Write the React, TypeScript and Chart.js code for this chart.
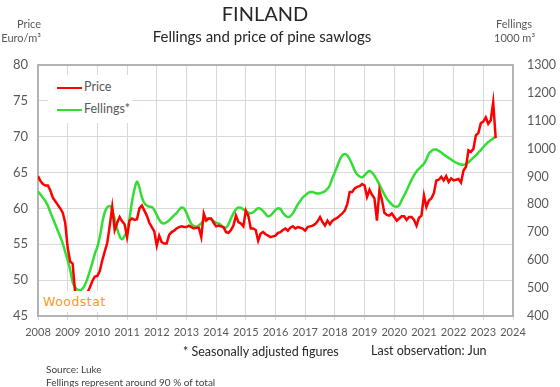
import React, { useEffect, useRef } from 'react';
import Chart from 'chart.js/auto';

// ---- data ----
const startYear = 2008;
const yearTicks = [2008, 2009, 2010, 2011, 2012, 2013, 2014, 2015, 2016, 2017, 2018, 2019, 2020, 2021, 2022, 2023, 2024];
const priceTicks = [45, 50, 55, 60, 65, 70, 75, 80];
const fellingsTicks = [400, 500, 600, 700, 800, 900, 1000, 1100, 1200, 1300];

// Monthly price of pine sawlogs, Euro/m3, Jan 2008 - Jun 2023
const priceValues = [
  64.5, 63.8, 63.4, 63.2, 63.2, 62.5, 61.5, 61.0, 60.5, 60.0, 59.4, 58.0, // 2008
  54.5, 52.6, 52.3, 48.3, 47.2, 46.5, 46.3, 47.0, 48.3, 49.0, 49.9, 50.5, // 2009
  50.6, 51.3, 52.8, 54.0, 55.2, 57.6, 60.2, 57.0, 58.0, 58.8, 58.2, 57.8, // 2010
  56.0, 58.3, 58.6, 58.4, 58.5, 60.0, 60.4, 59.7, 59.0, 58.0, 57.4, 56.8, // 2011
  54.8, 56.2, 55.3, 55.1, 55.1, 56.3, 56.7, 56.9, 57.2, 57.4, 57.5, 57.4, // 2012
  57.4, 57.6, 57.4, 57.2, 57.3, 57.3, 56.0, 59.3, 58.3, 58.6, 58.6, 58.0, // 2013
  57.5, 57.6, 57.5, 57.4, 56.7, 56.6, 57.0, 57.6, 59.0, 58.1, 57.9, 57.5, // 2014
  59.7, 59.0, 57.2, 57.2, 57.0, 55.5, 56.5, 56.7, 56.4, 56.2, 56.0, 56.1, // 2015
  56.2, 56.6, 56.7, 57.0, 57.2, 56.9, 57.3, 57.5, 57.2, 57.4, 57.3, 57.2, // 2016
  56.9, 57.4, 57.5, 57.6, 57.8, 58.2, 58.8, 58.1, 57.6, 58.3, 57.8, 58.3, // 2017
  58.5, 58.7, 59.0, 59.3, 59.7, 60.6, 62.3, 62.3, 62.8, 63.0, 63.1, 63.4, // 2018
  63.2, 61.6, 62.6, 61.9, 61.4, 58.3, 62.5, 61.2, 59.4, 59.1, 59.0, 59.3, // 2019
  58.8, 58.3, 58.6, 58.9, 58.9, 58.4, 58.8, 58.8, 58.4, 57.6, 58.7, 59.0, // 2020
  61.8, 60.2, 61.1, 61.4, 62.1, 63.9, 64.0, 64.4, 63.9, 64.5, 63.7, 64.2, // 2021
  63.9, 64.0, 64.1, 63.6, 65.3, 65.8, 68.1, 67.9, 68.3, 70.2, 70.5, 71.9, // 2022
  72.1, 72.7, 71.8, 72.3, 74.8, 69.8                                       // 2023
];

// Monthly fellings (seasonally adjusted), 1000 m3, Jan 2008 - Jun 2023
const fellingsValues = [
  846, 836, 824, 812, 795, 772, 750, 728, 706, 684, 660, 630, // 2008
  600, 566, 522, 503, 494, 492, 498, 512, 535, 562, 592, 624, // 2009
  648, 684, 735, 772, 790, 794, 780, 748, 712, 686, 675, 688, // 2010
  705, 750, 810, 855, 882, 860, 825, 805, 796, 792, 791, 780, // 2011
  762, 745, 734, 732, 736, 743, 752, 761, 769, 780, 789, 786, // 2012
  770, 748, 730, 722, 720, 725, 733, 742, 750, 750, 746, 740, // 2013
  734, 732, 726, 716, 716, 730, 750, 768, 782, 789, 788, 782, // 2014
  776, 770, 768, 772, 780, 786, 784, 776, 766, 757, 760, 770, // 2015
  780, 786, 784, 770, 760, 755, 758, 768, 783, 800, 812, 825, // 2016
  832, 840, 845, 845, 841, 839, 840, 843, 847, 856, 870, 895, // 2017
  915, 938, 960, 976, 981, 976, 962, 943, 922, 908, 900, 897, // 2018
  905, 914, 921, 914, 903, 888, 872, 853, 836, 820, 810, 800, // 2019
  793, 792, 797, 815, 832, 850, 870, 888, 905, 918, 928, 937, // 2020
  946, 962, 982, 991, 997, 997, 992, 986, 979, 973, 967, 961, // 2021
  955, 950, 946, 943, 942, 945, 951, 960, 968, 976, 986, 995, // 2022
  1006, 1015, 1024, 1030, 1037, 1042                          // 2023
];

const toPoints = (vals: number[]) => vals.map((v, i) => ({ x: startYear + i / 12, y: v }));

const FONT = 'Lato, "Open Sans", "DejaVu Sans", sans-serif';
const GREY = '#595959';

const framePlugin = {
  id: 'frame',
  beforeDatasetsDraw(chart: any) {
    const { ctx, chartArea } = chart;
    const { left, top, right, bottom } = chartArea;
    ctx.save();
    ctx.strokeStyle = '#b3b3b3';
    ctx.lineWidth = 2;
    ctx.strokeRect(left, top, right - left, bottom - top);
    ctx.restore();
  },
};

export default function App() {
  const ref = useRef<HTMLCanvasElement | null>(null);

  useEffect(() => {
    if (!ref.current) return;
    const chart = new Chart(ref.current, {
      type: 'line',
      data: {
        datasets: [
          {
            label: 'Price',
            data: toPoints(priceValues),
            borderColor: '#ff0000',
            borderWidth: 2.5,
            pointRadius: 0,
            tension: 0,
            yAxisID: 'y',
          },
          {
            label: 'Fellings*',
            data: toPoints(fellingsValues),
            borderColor: '#33dd33',
            borderWidth: 2.5,
            pointRadius: 0,
            cubicInterpolationMode: 'monotone',
            yAxisID: 'y1',
          },
        ],
      },
      options: {
        responsive: false,
        animation: false,
        parsing: false as any,
        layout: { padding: { top: 65, left: 0, right: 0, bottom: 0 } },
        plugins: {
          legend: { display: false },
          tooltip: { enabled: false },
          title: { display: false },
        },
        scales: {
          x: {
            type: 'linear',
            min: 2008,
            max: 2024,
            afterBuildTicks: (axis: any) => {
              axis.ticks = yearTicks.map((v) => ({ value: v }));
            },
            ticks: {
              autoSkip: false,
              maxRotation: 0,
              minRotation: 0,
              color: GREY,
              font: { family: FONT, size: 11 },
              padding: 6,
              callback: (v: any) => String(v),
            },
            grid: { color: '#d9d9d9', lineWidth: 1, tickLength: 4, drawTicks: true },
            border: { display: false },
            afterFit: (s: any) => {
              s.height = 71;
            },
          },
          y: {
            position: 'left',
            min: 45,
            max: 80,
            afterBuildTicks: (axis: any) => {
              axis.ticks = priceTicks.map((v) => ({ value: v }));
            },
            ticks: { color: GREY, font: { family: FONT, size: 13 }, padding: 10, callback: (v: any) => String(v) },
            grid: { color: '#d9d9d9', lineWidth: 1, drawTicks: false },
            border: { display: false },
            afterFit: (s: any) => {
              s.width = 38;
            },
          },
          y1: {
            position: 'right',
            min: 400,
            max: 1300,
            afterBuildTicks: (axis: any) => {
              axis.ticks = fellingsTicks.map((v) => ({ value: v }));
            },
            ticks: { color: GREY, font: { family: FONT, size: 12.5 }, padding: 14, callback: (v: any) => String(v) },
            grid: { drawOnChartArea: false, drawTicks: false },
            border: { display: false },
            afterFit: (s: any) => {
              s.width = 47;
            },
          },
        },
      } as any,
      plugins: [framePlugin],
    });
    return () => chart.destroy();
  }, []);

  const abs = (extra: React.CSSProperties): React.CSSProperties => ({
    position: 'absolute',
    fontFamily: FONT,
    whiteSpace: 'nowrap',
    lineHeight: 1,
    ...extra,
  });

  return (
    <div style={{ position: 'fixed', left: 0, top: 0, width: 560, height: 387, background: '#fff', overflow: 'hidden' }}>
      <canvas ref={ref} width={560} height={387} style={{ display: 'block', width: 560, height: 387 }} />
      <div style={abs({ left: 0, width: 530, top: 3, textAlign: 'center', fontSize: 20, color: '#262626' })}>FINLAND</div>
      <div style={abs({ left: 0, width: 524, top: 29, textAlign: 'center', fontSize: 15, color: '#262626' })}>
        Fellings and price of pine sawlogs
      </div>
      <div style={abs({ right: 519, top: 18, fontSize: 11, color: GREY, textAlign: 'right' })}>Price</div>
      <div style={abs({ right: 519, top: 32, fontSize: 11, color: GREY, textAlign: 'right' })}>Euro/m³</div>
      <div style={abs({ left: 496, top: 18, fontSize: 11, color: GREY })}>Fellings</div>
      <div style={abs({ left: 494, top: 32, fontSize: 11, color: GREY })}>1000 m³</div>

      {/* legend */}
      <div style={{ position: 'absolute', left: 48, top: 75, width: 84, height: 48, background: '#fff' }}>
        <div style={{ position: 'absolute', left: 9, top: 11.5, width: 25, height: 2.5, background: '#ff0000' }} />
        <div style={abs({ left: 36, top: 6, fontSize: 12.5, color: GREY })}>Price</div>
        <div style={{ position: 'absolute', left: 9, top: 33.5, width: 25, height: 2.5, background: '#33dd33' }} />
        <div style={abs({ left: 36, top: 28, fontSize: 12.5, color: GREY })}>Fellings*</div>
      </div>

      {/* logo */}
      <div style={{ position: 'absolute', left: 41, top: 291, width: 77, height: 21, background: '#fff' }}>
        <div style={abs({ left: 2, top: 5, fontSize: 12.5, color: '#f59a23', fontFamily: '"DejaVu Sans", sans-serif', letterSpacing: 0.5 })}>
          Woodstat
        </div>
      </div>

      <div style={abs({ left: 183, top: 346, fontSize: 12.5, color: '#262626' })}>* Seasonally adjusted figures</div>
      <div style={abs({ left: 371, top: 345, fontSize: 12.5, color: '#262626' })}>Last observation: Jun</div>
      <div style={abs({ left: 46, top: 364, fontSize: 10, color: '#404040' })}>Source: Luke</div>
      <div style={abs({ left: 46, top: 377, fontSize: 10, color: '#404040' })}>Fellings represent around 90 % of total</div>
    </div>
  );
}
